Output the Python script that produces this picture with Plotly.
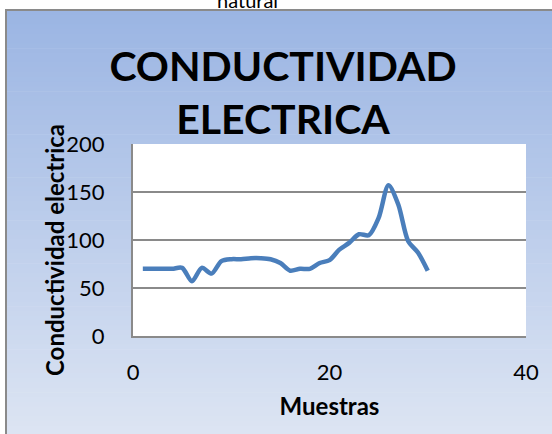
import plotly.graph_objects as go

# Data
muestras = list(range(1, 31))
conductividad = [70, 70, 70, 70, 71, 57, 71, 65, 78, 80,
                 80, 81, 81, 80, 76, 68, 70, 70, 76, 79,
                 90, 97, 106, 105, 123, 157, 137, 99, 87, 68]
x_ticks = [0, 20, 40]
y_ticks = [0, 50, 100, 150, 200]

W, H = 552, 434
L, R, T, B = 133, 26, 144, 98
PW, PH = W - L - R, H - T - B

def px2x(px):
    return (px - L) / PW

def py2y(py):
    return (H - B - py) / PH

fig = go.Figure()
fig.add_trace(go.Scatter(
    x=muestras, y=conductividad, mode="lines",
    line=dict(color="#4A7EBB", width=4.5, shape="spline", smoothing=0.8),
    showlegend=False, hoverinfo="x+y",
))

shapes = []
# gradient background box (stripes)
top_c = (155, 181, 227)
bot_c = (221, 229, 243)
y0p, y1p = 10, 440
N = 90
for i in range(N):
    a = y0p + (y1p - y0p) * i / N
    b = y0p + (y1p - y0p) * (i + 1) / N
    t = i / (N - 1)
    c = tuple(round(top_c[k] + (bot_c[k] - top_c[k]) * t) for k in range(3))
    shapes.append(dict(type="rect", xref="paper", yref="paper",
                       x0=px2x(6), x1=px2x(560), y0=py2y(b + 0.6), y1=py2y(a),
                       fillcolor="rgb(%d,%d,%d)" % c, line=dict(width=0),
                       layer="below"))
# box border
shapes.append(dict(type="rect", xref="paper", yref="paper",
                   x0=px2x(6), x1=px2x(600), y0=py2y(480), y1=py2y(10),
                   fillcolor="rgba(0,0,0,0)", line=dict(color="#8a8a8a", width=2),
                   layer="below"))
# white plot area
shapes.append(dict(type="rect", xref="paper", yref="paper",
                   x0=0, x1=1, y0=0, y1=1, fillcolor="white",
                   line=dict(width=0), layer="below"))

fig.update_layout(
    width=W, height=H,
    margin=dict(l=L, r=R, t=T, b=B, autoexpand=False),
    paper_bgcolor="white", plot_bgcolor="rgba(0,0,0,0)",
    shapes=shapes,
    font=dict(family="Lato", color="black"),
    title=dict(text="CONDUCTIVIDAD<br>ELECTRICA",
               font=dict(family="Lato", size=41, weight="bold", color="black"),
               x=283 / W, xref="container", xanchor="center",
               y=1 - 81 / H, yref="container", yanchor="middle"),
    xaxis=dict(range=[0, 40], tickvals=x_ticks, ticktext=[str(v) for v in x_ticks],
               showgrid=False, zeroline=False,
               showline=True, linecolor="#8a8a8a", linewidth=2,
               ticks="", ticklabelstandoff=16,
               tickfont=dict(family="Lato", size=22, color="black"),
               title=dict(text="Muestras", standoff=14,
                          font=dict(family="Lato", size=24, weight="bold", color="black"))),
    yaxis=dict(range=[0, 200], tickvals=y_ticks, ticktext=[str(v) for v in y_ticks],
               showgrid=True, gridcolor="#8a8a8a", gridwidth=2, zeroline=False,
               showline=True, linecolor="#8a8a8a", linewidth=2,
               ticks="", ticklabelstandoff=22,
               tickfont=dict(family="Lato", size=22, color="black")),
    annotations=[
        dict(text="Conductividad electrica", textangle=-90,
             xref="paper", yref="paper", x=px2x(54), y=py2y(250),
             xanchor="center", yanchor="middle", showarrow=False,
             font=dict(family="Lato", size=24, weight="bold", color="black")),
        dict(text="natural", xref="paper", yref="paper",
             x=px2x(247), y=py2y(14), xanchor="center", yanchor="bottom",
             showarrow=False, font=dict(family="Lato", size=20, color="black")),
    ],
)

fig.write_html("out.html", config={"displayModeBar": False},
               post_script="document.body.style.margin='0px';")
